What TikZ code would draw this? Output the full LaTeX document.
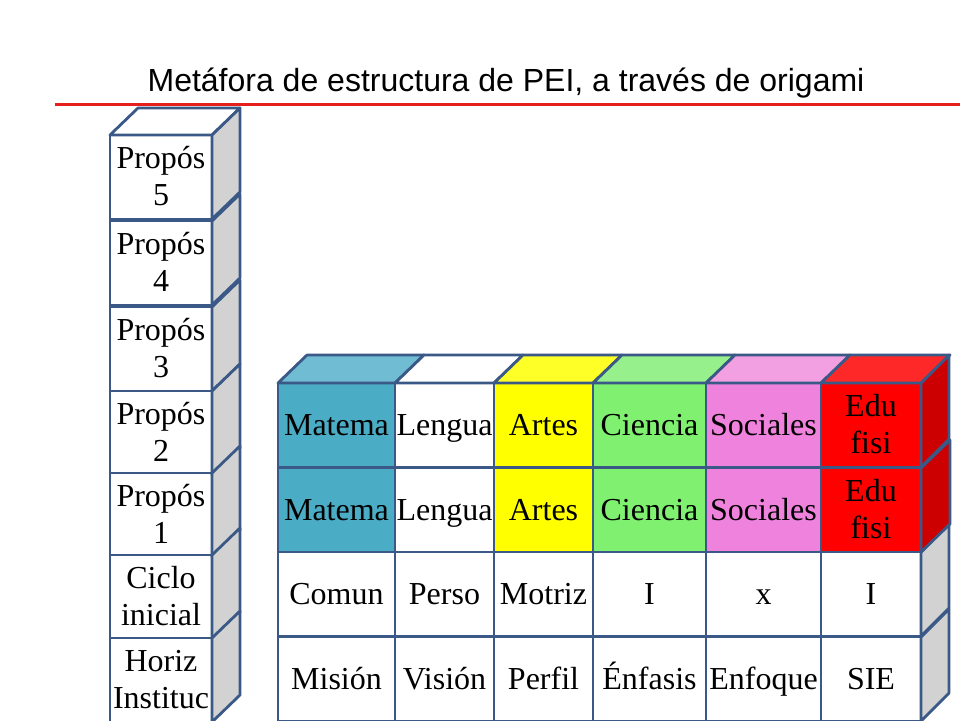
\documentclass[tikz,border=0pt]{standalone}
\usepackage{fontspec}
\setmainfont{Liberation Serif}
\newfontfamily\titlefont{Liberation Sans}
\usetikzlibrary{positioning, calc}
\definecolor{edge_blue}{RGB}{59, 89, 135}
\definecolor{side_gray}{RGB}{210, 210, 210}
\definecolor{mate_blue}{RGB}{75, 172, 198}
\definecolor{mate_top}{RGB}{112, 188, 210}
\definecolor{arte_yellow}{RGB}{255, 255, 0}
\definecolor{arte_top}{RGB}{255, 255, 40}
\definecolor{cien_green}{RGB}{128, 240, 112}
\definecolor{cien_top}{RGB}{150, 240, 140}
\definecolor{soci_pink}{RGB}{238, 130, 220}
\definecolor{soci_top}{RGB}{242, 160, 225}
\definecolor{edu_red}{RGB}{255, 0, 0}
\definecolor{edu_top}{RGB}{255, 40, 40}
\definecolor{edu_side}{RGB}{204, 0, 0}
\definecolor{rule_red}{RGB}{230, 30, 30}

\begin{document}
\begin{tikzpicture}[
    x=1pt, y=-1pt,
    cell/.style={
        rectangle,
        draw=edge_blue,
        fill=#1,
        line width=2.8pt,
        inner sep=0pt,
        outer sep=0pt,
        minimum height=84pt,
        text height=25pt,
        text depth=5pt,
        anchor=north west,
        align=center,
        font=\fontsize{32}{37}\selectfont
    },
    cell/.default=white,
    twoline/.style={text height=62pt},
    face/.style={
        draw=edge_blue,
        fill=#1,
        line width=2.8pt,
        line join=round
    }
]
\clip (0,0) rectangle (960,720);
\useasboundingbox (0,0) rectangle (960,720);

% Title and rule
\node[font=\titlefont\fontsize{32}{38}\selectfont] (title) at (506,83) {Metáfora de estructura de PEI, a través de origami};
\coordinate (ruleL) at (55,104);
\coordinate (ruleR) at (960,104);
\draw[rule_red, line width=3pt] (ruleL) -- (ruleR);

% Left column of cubes
\node[cell, twoline, minimum width=102pt] (p5) at (110,135) {Propós\\5};
\node[cell, twoline, minimum width=102pt] (p4) at (110,221) {Propós\\4};
\node[cell, twoline, minimum width=102pt] (p3) at (110,307) {Propós\\3};
\node[cell, twoline, minimum width=102pt] (p2) at (110,391) {Propós\\2};
\node[cell, twoline, minimum width=102pt] (p1) at (110,473) {Propós\\1};
\node[cell, twoline, minimum width=102pt] (ciclo) at (110,555) {Ciclo\\inicial};
\node[cell, twoline, minimum width=102pt] (horiz) at (110,638) {Horiz\\Instituc};

\draw[face=white] (p5.north west) -- ++(28,-27) -- ($(p5.north east)+(28,-27)$) -- (p5.north east) -- cycle;
\foreach \n in {p5,p4,p3,p2,p1,ciclo,horiz}
    \draw[face=side_gray] (\n.north east) -- ++(28,-27) -- ($(\n.south east)+(28,-27)$) -- (\n.south east) -- cycle;

% Areas, first row
\node[cell=mate_blue, minimum width=117pt] (mat1) at (278,383) {Matema};
\node[cell, minimum width=99pt] (len1) at (395,383) {Lengua};
\node[cell=arte_yellow, minimum width=99pt] (art1) at (494,383) {Artes};
\node[cell=cien_green, minimum width=113pt] (cie1) at (593,383) {Ciencia};
\node[cell=soci_pink, minimum width=115pt] (soc1) at (706,383) {Sociales};
\node[cell=edu_red, twoline, minimum width=100pt] (edu1) at (821,383) {Edu\\fisi};

% Areas, second row
\node[cell=mate_blue, minimum width=117pt] (mat2) at (278,468) {Matema};
\node[cell, minimum width=99pt] (len2) at (395,468) {Lengua};
\node[cell=arte_yellow, minimum width=99pt] (art2) at (494,468) {Artes};
\node[cell=cien_green, minimum width=113pt] (cie2) at (593,468) {Ciencia};
\node[cell=soci_pink, minimum width=115pt] (soc2) at (706,468) {Sociales};
\node[cell=edu_red, twoline, minimum width=100pt] (edu2) at (821,468) {Edu\\fisi};

% Third row
\node[cell, minimum width=117pt] (com) at (278,552) {Comun};
\node[cell, minimum width=99pt] (per) at (395,552) {Perso};
\node[cell, minimum width=99pt] (mot) at (494,552) {Motriz};
\node[cell, minimum width=113pt] (ione) at (593,552) {I};
\node[cell, minimum width=115pt] (xone) at (706,552) {x};
\node[cell, minimum width=100pt] (itwo) at (821,552) {I};

% Base row
\node[cell, minimum width=117pt] (mis) at (278,637) {Misión};
\node[cell, minimum width=99pt] (vis) at (395,637) {Visión};
\node[cell, minimum width=99pt] (prf) at (494,637) {Perfil};
\node[cell, minimum width=113pt] (enf) at (593,637) {Énfasis};
\node[cell, minimum width=115pt] (enq) at (706,637) {Enfoque};
\node[cell, minimum width=100pt] (sie) at (821,637) {SIE};

% Top faces
\draw[face=mate_top] (mat1.north west) -- ++(29,-28) -- ($(mat1.north east)+(29,-28)$) -- (mat1.north east) -- cycle;
\draw[face=white] (len1.north west) -- ++(29,-28) -- ($(len1.north east)+(29,-28)$) -- (len1.north east) -- cycle;
\draw[face=arte_top] (art1.north west) -- ++(29,-28) -- ($(art1.north east)+(29,-28)$) -- (art1.north east) -- cycle;
\draw[face=cien_top] (cie1.north west) -- ++(29,-28) -- ($(cie1.north east)+(29,-28)$) -- (cie1.north east) -- cycle;
\draw[face=soci_top] (soc1.north west) -- ++(29,-28) -- ($(soc1.north east)+(29,-28)$) -- (soc1.north east) -- cycle;
\draw[face=edu_top] (edu1.north west) -- ++(29,-28) -- ($(edu1.north east)+(29,-28)$) -- (edu1.north east) -- cycle;

% Side faces
\draw[face=edu_side] (edu1.north east) -- ++(28,-28) -- ($(edu1.south east)+(28,-28)$) -- (edu1.south east) -- cycle;
\draw[face=side_gray] (sie.north east) -- ++(28,-28) -- ($(sie.south east)+(28,-28)$) -- (sie.south east) -- cycle;
\draw[face=side_gray] (itwo.north east) -- ++(28,-28) -- ($(itwo.south east)+(28,-28)$) -- (itwo.south east) -- cycle;
\draw[face=edu_side] (edu2.north east) -- ++(29,-28) -- ($(edu2.south east)+(29,-28)$) -- (edu2.south east) -- cycle;

\end{tikzpicture}
\end{document}
